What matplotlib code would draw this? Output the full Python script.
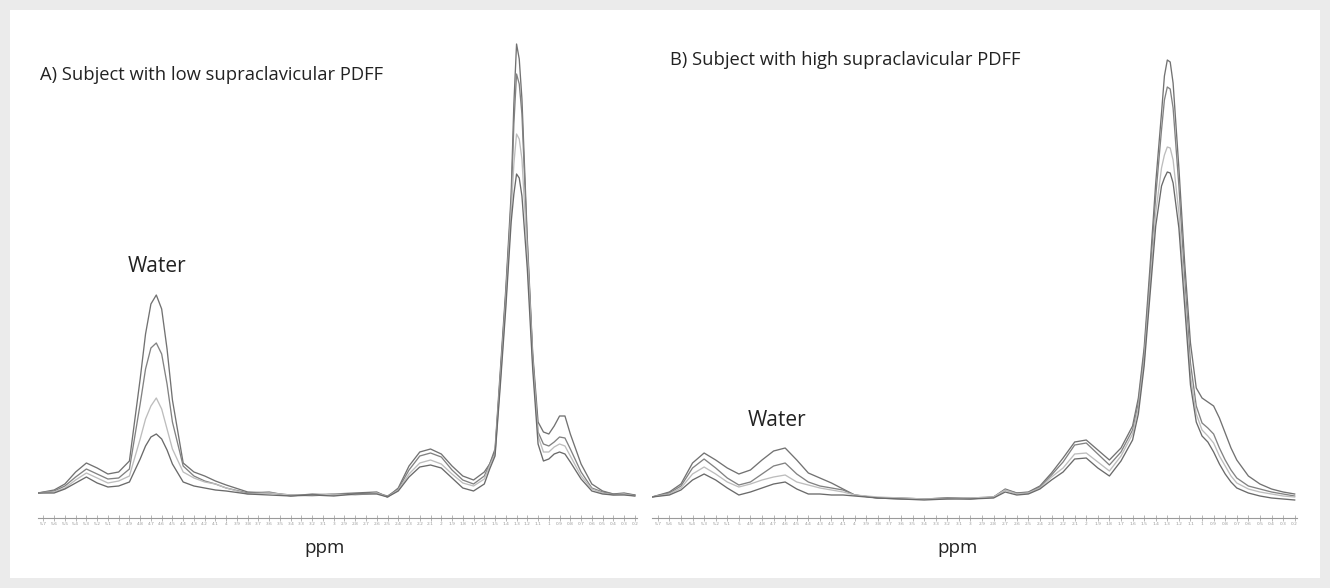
import matplotlib
matplotlib.use("Agg")
import matplotlib.pyplot as plt
from matplotlib.patches import Rectangle

# ---- data (signal in arbitrary units) ----
ppm_a = [5.75, 5.6, 5.5, 5.4, 5.3, 5.2, 5.1, 5.0, 4.9, 4.8, 4.75, 4.7, 4.65, 4.6, 4.55, 4.5,
         4.4, 4.3, 4.2, 4.1, 4.0, 3.8, 3.6, 3.4, 3.2, 3.0, 2.8, 2.6, 2.5, 2.4, 2.3, 2.2, 2.1,
         2.0, 1.9, 1.8, 1.7, 1.6, 1.55, 1.5, 1.45, 1.4, 1.35, 1.325, 1.3, 1.275, 1.25, 1.2,
         1.15, 1.1, 1.05, 1.0, 0.95, 0.9, 0.85, 0.8, 0.7, 0.6, 0.5, 0.4, 0.3, 0.2]
a_echo1 = [1, 4, 10, 22, 31, 26, 20, 22, 33, 115, 160, 190, 199, 185, 145, 94,
           31, 22, 18, 13, 9, 2, 1, -1, -1, 0, 1, 2, -3, 6, 28, 42, 45,
           40, 28, 18, 14, 22, 30, 45, 125, 205, 300, 390, 450, 435, 395, 255,
           141, 72, 62, 60, 68, 78, 78, 60, 30, 10, 3, 0, 1, -1]
a_echo2 = [1, 3, 8, 17, 25, 20, 15, 16, 25, 90, 125, 146, 151, 140, 110, 72,
           28, 18, 13, 10, 6, 1, 2, -2, 0, -1, 0, 1, -2, 5, 24, 38, 41,
           37, 24, 14, 10, 18, 30, 42, 120, 200, 292, 370, 420, 410, 380, 250,
           138, 62, 50, 48, 52, 57, 56, 45, 22, 6, 2, 0, 0, -1]
a_echo3 = [1, 2, 6, 14, 21, 16, 11, 13, 18, 55, 75, 88, 96, 85, 65, 45,
           22, 16, 12, 10, 6, 0, 1, -1, -2, 0, -1, 1, -3, 4, 20, 31, 34,
           30, 20, 11, 8, 15, 28, 40, 115, 192, 282, 330, 360, 355, 335, 240,
           132, 58, 42, 42, 47, 50, 48, 38, 18, 5, 1, -1, 0, -2]
a_echo4 = [1, 1, 5, 11, 17, 11, 7, 8, 12, 35, 48, 57, 60, 55, 44, 30,
           12, 8, 6, 4, 3, 0, -1, -2, -1, -2, 0, 0, -3, 3, 17, 27, 29,
           26, 16, 6, 3, 10, 25, 38, 110, 186, 272, 300, 320, 316, 298, 225,
           125, 50, 33, 35, 40, 42, 40, 32, 15, 3, 0, -1, -1, -2]

ppm_b = [5.75, 5.6, 5.5, 5.4, 5.3, 5.2, 5.1, 5.0, 4.9, 4.8, 4.7, 4.6, 4.5, 4.4, 4.3, 4.2,
         4.1, 4.0, 3.8, 3.6, 3.4, 3.2, 3.0, 2.8, 2.7, 2.6, 2.5, 2.4, 2.3, 2.2, 2.1, 2.0,
         1.9, 1.8, 1.7, 1.6, 1.55, 1.5, 1.45, 1.4, 1.35, 1.325, 1.3, 1.275, 1.25, 1.2,
         1.15, 1.1, 1.05, 1.0, 0.95, 0.9, 0.85, 0.8, 0.75, 0.7, 0.6, 0.5, 0.4, 0.3, 0.2]
b_echo1 = [1, 6, 14, 35, 45, 38, 30, 24, 28, 38, 47, 50, 38, 25, 20, 15,
           9, 3, 0, 0, -1, 0, -1, 1, 9, 5, 6, 12, 25, 40, 56, 58,
           48, 38, 50, 72, 100, 150, 230, 315, 385, 422, 438, 436, 415, 330,
           235, 155, 110, 100, 96, 92, 80, 65, 50, 38, 22, 14, 9, 6, 4]
b_echo2 = [1, 5, 12, 30, 39, 30, 20, 13, 16, 24, 32, 35, 24, 16, 12, 10,
           8, 3, 0, -1, -1, 0, 0, 1, 8, 5, 5, 11, 23, 36, 53, 55,
           44, 33, 46, 68, 95, 145, 220, 302, 368, 398, 411, 409, 390, 312,
           220, 135, 92, 75, 70, 64, 50, 38, 28, 20, 12, 9, 6, 4, 2]
b_echo3 = [1, 4, 10, 24, 31, 24, 16, 11, 14, 18, 21, 23, 16, 13, 10, 8,
           6, 3, 1, 0, -1, -1, 0, 1, 8, 4, 5, 10, 21, 30, 44, 45,
           36, 27, 42, 64, 90, 138, 210, 285, 330, 343, 351, 350, 338, 285,
           205, 122, 84, 68, 62, 55, 42, 32, 22, 15, 9, 6, 4, 2, 1]
b_echo4 = [1, 3, 8, 18, 24, 18, 10, 3, 6, 10, 14, 16, 9, 4, 4, 3,
           3, 2, 0, -1, -2, -1, -1, 0, 6, 3, 4, 9, 18, 26, 39, 40,
           30, 22, 37, 58, 84, 132, 202, 272, 312, 320, 326, 325, 315, 270,
           192, 113, 76, 62, 56, 46, 34, 24, 16, 10, 5, 2, 0, -1, -2]

tick_ppm = [5.7, 5.6, 5.5, 5.4, 5.3, 5.2, 5.1, 5.0, 4.9, 4.8, 4.7, 4.6, 4.5, 4.4, 4.3, 4.2,
            4.1, 4.0, 3.9, 3.8, 3.7, 3.6, 3.5, 3.4, 3.3, 3.2, 3.1, 3.0, 2.9, 2.8, 2.7, 2.6,
            2.5, 2.4, 2.3, 2.2, 2.1, 2.0, 1.9, 1.8, 1.7, 1.6, 1.5, 1.4, 1.3, 1.2, 1.1, 1.0,
            0.9, 0.8, 0.7, 0.6, 0.5, 0.4, 0.3, 0.2]

line_colors = ["#727272", "#828282", "#bdbdbd", "#6a6a6a"]

W, H = 1330, 588
fig = plt.figure(figsize=(W / 100, H / 100), dpi=100, facecolor="#ebebeb")
fig.patches.append(Rectangle((10 / W, 10 / H), 1310 / W, 568 / H, transform=fig.transFigure,
                             facecolor="white", edgecolor="none", zorder=-5))


def px_axes(left, right, top, bottom):
    return fig.add_axes([left / W, 1 - bottom / H, (right - left) / W, (bottom - top) / H])


def draw_panel(ax, ppm, curves, ylo, yhi):
    for vals, col in zip(curves, line_colors):
        ax.plot(ppm, vals, color=col, lw=0.95, solid_joinstyle="round")
    ax.set_xlim(5.75, 0.18)
    ax.set_ylim(ylo, yhi)
    ax.patch.set_visible(False)
    for s in ["top", "right", "left"]:
        ax.spines[s].set_visible(False)
    ax.spines["bottom"].set_color("#9a9a9a")
    ax.spines["bottom"].set_linewidth(0.8)
    ax.set_yticks([])
    ax.set_xticks(tick_ppm)
    ax.set_xticklabels([f"{v:g}" for v in tick_ppm], fontsize=3.2, color="#9a9a9a")
    ax.tick_params(axis="x", direction="inout", length=4, width=0.5, color="#9a9a9a", pad=1)


ax_a = px_axes(38, 637, 25, 518)
draw_panel(ax_a, ppm_a, [a_echo1, a_echo2, a_echo3, a_echo4], -24, 469)
ax_b = px_axes(652, 1297, 25, 518)
draw_panel(ax_b, ppm_b, [b_echo1, b_echo2, b_echo3, b_echo4], -20, 473)

font = ["Open Sans", "DejaVu Sans"]
fig.text(40 / W, 1 - 75 / H, "A) Subject with low supraclavicular PDFF", fontsize=13.2,
         family=font, color="#222222", va="center", ha="left")
fig.text(670 / W, 1 - 60 / H, "B) Subject with high supraclavicular PDFF", fontsize=13.2,
         family=font, color="#222222", va="center", ha="left")
fig.text(157 / W, 1 - 267 / H, "Water", fontsize=15, family=font, color="#222222",
         va="center", ha="center")
fig.text(777 / W, 1 - 420 / H, "Water", fontsize=15, family=font, color="#222222",
         va="center", ha="center")
fig.text(325 / W, 1 - 548 / H, "ppm", fontsize=13.5, family=font, color="#222222",
         va="center", ha="center")
fig.text(958 / W, 1 - 548 / H, "ppm", fontsize=13.5, family=font, color="#222222",
         va="center", ha="center")

fig.savefig("out.png", dpi=100, facecolor=fig.get_facecolor())
